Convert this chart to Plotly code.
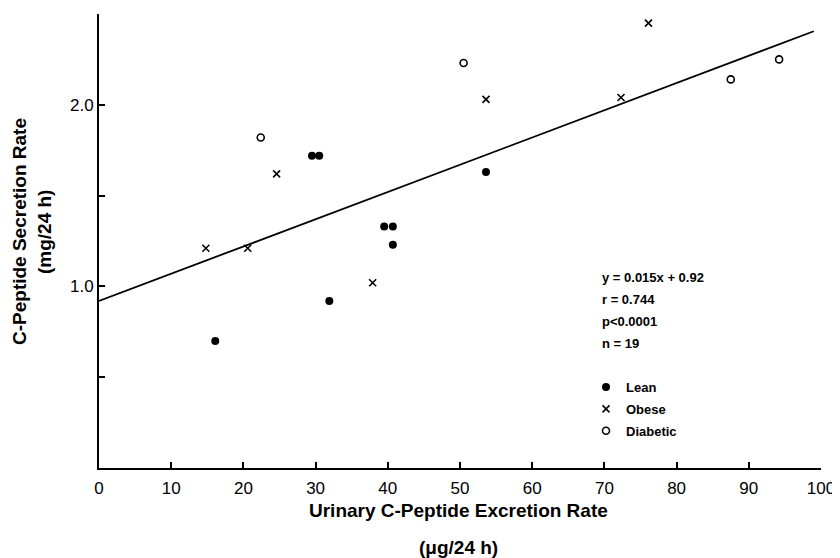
import plotly.graph_objects as go

# ---- data ----
lean_x = [16.1, 29.5, 30.5, 31.9, 39.5, 40.7, 40.7, 53.6]
lean_y = [0.70, 1.72, 1.72, 0.92, 1.33, 1.33, 1.23, 1.63]

obese_x = [14.8, 20.6, 24.6, 37.9, 53.6, 72.3, 76.1]
obese_y = [1.21, 1.21, 1.62, 1.02, 2.03, 2.04, 2.45]

diab_x = [22.4, 50.5, 87.5, 94.2]
diab_y = [1.82, 2.23, 2.14, 2.25]

slope = 0.015
intercept = 0.92
fit_x = [0, 99]
fit_y = [slope * v + intercept for v in fit_x]

x_ticks = [0, 10, 20, 30, 40, 50, 60, 70, 80, 90, 100]
y_ticks = [0.5, 1.0, 1.5, 2.0, 2.5]
y_ticktext = ["", "1.0", "", "2.0", ""]

stats_lines = ["y = 0.015x + 0.92", "r = 0.744", "p<0.0001", "n = 19"]

# ---- figure ----
# page body has an 8px margin; the figure is sized so it fills the 840x558 window
OFF = 8
W, H = 840 - OFF, 558 - OFF
L, R, T, B = 99 - OFF, 19, 14 - OFF, 90
pw, ph = W - L - R, H - T - B


def px(sx):
    """screen x pixel -> paper coordinate"""
    return (sx - OFF - L) / pw


def py(sy):
    """screen y pixel -> paper coordinate"""
    return (H - B - (sy - OFF)) / ph


fig = go.Figure()

fig.add_trace(go.Scatter(x=fit_x, y=fit_y, mode="lines",
                         line=dict(color="black", width=1.8),
                         showlegend=False, hoverinfo="skip"))

fig.add_trace(go.Scatter(x=lean_x, y=lean_y, mode="markers", name="Lean",
                         legendgroup="a",
                         marker=dict(symbol="circle", size=8, color="black")))
fig.add_trace(go.Scatter(x=obese_x, y=obese_y, mode="markers", name="Obese",
                         legendgroup="b",
                         marker=dict(symbol="x-thin", size=7,
                                     line=dict(color="black", width=1.6))))
fig.add_trace(go.Scatter(x=diab_x, y=diab_y, mode="markers", name="Diabetic",
                         legendgroup="c",
                         marker=dict(symbol="circle-open", size=7, color="black",
                                     line=dict(color="black", width=1.6))))

tick_font = dict(family="Liberation Sans", size=17, color="black")
title_font = dict(family="Liberation Sans", size=19, color="black")

fig.update_xaxes(range=[0, 100], tickvals=x_ticks, ticks="inside", ticklen=6,
                 tickwidth=1.5, tickcolor="black", showline=True,
                 linecolor="black", linewidth=2, showgrid=False, zeroline=False,
                 tickfont=tick_font, ticklabelstandoff=4)
fig.update_yaxes(range=[0, 2.5], tickvals=y_ticks, ticktext=y_ticktext,
                 ticks="inside", ticklen=6, tickwidth=1.5, tickcolor="black",
                 showline=True, linecolor="black", linewidth=2, showgrid=False,
                 zeroline=False, tickfont=tick_font)

anns = []
# axis titles
anns.append(dict(text="<b>Urinary C-Peptide Excretion Rate</b>", x=px(458), y=py(510),
                 xref="paper", yref="paper", showarrow=False, font=title_font,
                 xanchor="center", yanchor="middle"))
anns.append(dict(text="<b>(μg/24 h)</b>", x=px(458), y=py(547),
                 xref="paper", yref="paper", showarrow=False, font=title_font,
                 xanchor="center", yanchor="middle"))
anns.append(dict(text="<b>C-Peptide Secretion Rate</b>", x=px(20), y=py(232),
                 xref="paper", yref="paper", showarrow=False, font=title_font,
                 textangle=-90, xanchor="center", yanchor="middle"))
anns.append(dict(text="<b>(mg/24 h)</b>", x=px(45), y=py(232),
                 xref="paper", yref="paper", showarrow=False, font=title_font,
                 textangle=-90, xanchor="center", yanchor="middle"))

stat_y = [277, 299, 321, 343]
for t, yy in zip(stats_lines, stat_y):
    anns.append(dict(text="<b>" + t + "</b>", x=px(600), y=py(yy), xref="paper",
                     yref="paper", showarrow=False, xanchor="left",
                     yanchor="middle",
                     font=dict(family="Liberation Sans", size=13, color="black")))

fig.update_layout(
    width=W, height=H,
    margin=dict(l=L, r=R, t=T, b=B),
    paper_bgcolor="white", plot_bgcolor="white",
    annotations=anns,
    showlegend=True,
    legend=dict(x=px(586), y=py(372), xanchor="left", yanchor="top",
                bgcolor="rgba(0,0,0,0)", borderwidth=0,
                traceorder="grouped", tracegroupgap=2, itemwidth=30,
                font=dict(family="Liberation Sans", size=13, color="black",
                          weight="bold")),
)

fig.write_html("out.html")
